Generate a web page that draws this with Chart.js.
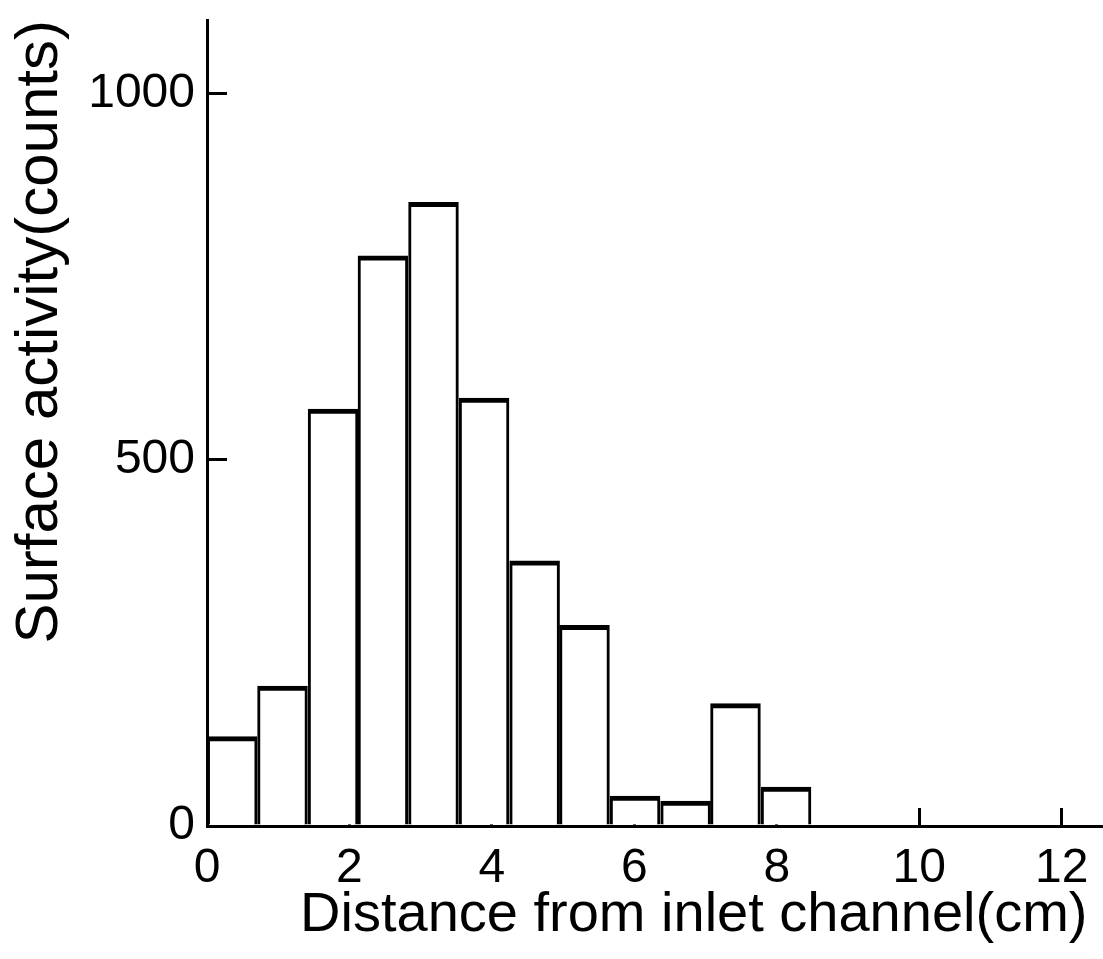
<!DOCTYPE html>
<html>
<head>
<meta charset="utf-8">
<script src="https://cdn.jsdelivr.net/npm/chart.js@4.4.1/dist/chart.umd.min.js"></script>
<style>
  body { margin: 0; background: #fff; }
  #wrap { width: 1103px; height: 959px; }
</style>
</head>
<body>
<div id="wrap"><canvas id="histChart"></canvas></div>
<script>
// bin centres (cm), bins are ~0.71 cm wide
const binCentres = [0.354, 1.06, 1.77, 2.47, 3.18, 3.89, 4.60, 5.30, 6.01, 6.72, 7.42, 8.13];
// surface activity per bin (counts)
const counts = [122, 191, 569, 778, 851, 584, 362, 274, 41, 34, 167, 53];
const xTicks = [0, 2, 4, 6, 8, 10, 12];
const yTicks = [0, 500, 1000];

Chart.defaults.color = '#000';
Chart.defaults.font.family = '"Liberation Sans", Arial, sans-serif';

// no extra room for the end labels, the axes sit on fixed positions
function noLabelPadding(scale) {
  scale.paddingTop = 0;
  scale.paddingBottom = 0;
  scale.paddingLeft = 0;
  scale.paddingRight = 0;
}

const ctx = document.getElementById('histChart').getContext('2d');
new Chart(ctx, {
  type: 'bar',
  data: {
    datasets: [{
      data: binCentres.map((x, i) => ({ x: x, y: counts[i] })),
      backgroundColor: '#fff',
      borderColor: '#000',
      borderWidth: { top: 5, left: 3, right: 3, bottom: 0 },
      barPercentage: 1,
      categoryPercentage: 1
    }]
  },
  options: {
    responsive: true,
    maintainAspectRatio: false,
    animation: false,
    layout: { padding: { top: 20, right: 0, left: 0, bottom: 0 } },
    plugins: {
      legend: { display: false },
      tooltip: { enabled: false }
    },
    scales: {
      x: {
        type: 'linear',
        min: 0,
        max: 12.58,
        offset: false,
        afterBuildTicks: scale => { scale.ticks = xTicks.map(v => ({ value: v })); },
        afterFit: scale => { scale.height = 133; noLabelPadding(scale); },
        grid: {
          offset: false,
          drawOnChartArea: false,
          color: '#000',
          lineWidth: 3,
          tickLength: -18
        },
        border: { color: '#000', width: 3 },
        ticks: {
          padding: 32,
          maxRotation: 0,
          autoSkip: false,
          callback: v => String(v),
          font: { size: 48 }
        },
        title: {
          display: true,
          text: 'Distance from inlet channel(cm)\u00a0',
          align: 'end',
          padding: { top: 0, bottom: 10 },
          font: { size: 56 }
        }
      },
      y: {
        min: 0,
        max: 1100,
        afterBuildTicks: scale => { scale.ticks = yTicks.map(v => ({ value: v })); },
        afterFit: scale => { scale.width = 207; noLabelPadding(scale); },
        grid: {
          drawOnChartArea: false,
          color: '#000',
          lineWidth: 3,
          tickLength: -20
        },
        border: { color: '#000', width: 3 },
        ticks: {
          padding: 32,
          callback: v => String(v),
          font: { size: 48 }
        },
        title: {
          display: true,
          text: 'Surface activity(counts)',
          align: 'end',
          padding: { top: 4, bottom: 0 },
          font: { size: 60 }
        }
      }
    }
  }
});
</script>
</body>
</html>
